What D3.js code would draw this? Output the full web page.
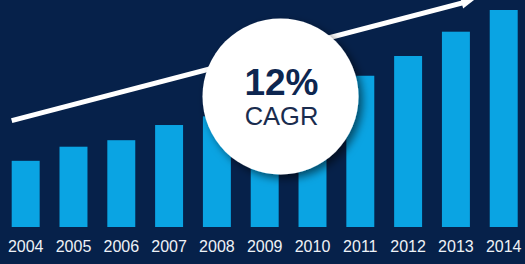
<!DOCTYPE html>
<html>
<head>
<meta charset="utf-8">
<script src="https://cdn.jsdelivr.net/npm/d3@7"></script>
<style>
html,body{margin:0;padding:0;background:#06214a;}
svg{display:block;}
</style>
</head>
<body>
<svg id="chart" width="525" height="264"></svg>
<script>
const years = ["2004","2005","2006","2007","2008","2009","2010","2011","2012","2013","2014"];
const values = [30.5, 37, 40, 47, 51, 55, 61, 69.7, 78.8, 90, 100];
const trendValues = [49, 104];
const badgeMain = "12%";
const badgeSub = "CAGR";

const W = 525, H = 264;
const svg = d3.select("#chart");

svg.append("rect").attr("width", W).attr("height", H).attr("fill", "#06214a");

const defs = svg.append("defs");
const f = defs.append("filter").attr("id","shadow").attr("x","-30%").attr("y","-30%").attr("width","160%").attr("height","160%");
f.append("feDropShadow").attr("dx",4).attr("dy",4).attr("stdDeviation",4).attr("flood-color","#000").attr("flood-opacity",0.55);

const x = d3.scaleBand().domain(years).range([11.7, 517.7]).paddingInner(0.415).paddingOuter(0);
const y = d3.scaleLinear().domain([0, 100]).range([227, 10]);

svg.append("g").selectAll("rect").data(years).join("rect")
  .attr("x", d => x(d))
  .attr("y", (d,i) => y(values[i]))
  .attr("width", x.bandwidth())
  .attr("height", (d,i) => y(0) - y(values[i]))
  .attr("fill", "#0aa4e3");

// year labels
svg.append("g").selectAll("text").data(years).join("text")
  .attr("x", d => x(d) + x.bandwidth()/2)
  .attr("y", 252)
  .attr("text-anchor", "middle")
  .attr("font-family", "Liberation Sans, Arial, sans-serif")
  .attr("font-size", 16)
  .attr("fill", "#eef2f7")
  .text(d => d);

// trend arrow
const x0 = x.range()[0], x1 = x("2013") + x.bandwidth()*0.95;
const ya = y(trendValues[0]), yb = y(trendValues[1]);
const ang = Math.atan2(yb - ya, x1 - x0);
svg.append("line")
  .attr("x1", x0).attr("y1", ya).attr("x2", x1 - 4*Math.cos(ang)).attr("y2", yb - 4*Math.sin(ang))
  .attr("stroke", "#ffffff").attr("stroke-width", 5);
const hl = 13, hw = 5.5;
const tip = [x1 + 6*Math.cos(ang), yb + 6*Math.sin(ang)];
const base = [tip[0] - hl*Math.cos(ang), tip[1] - hl*Math.sin(ang)];
const pts = [tip,
  [base[0] + hw*Math.sin(ang), base[1] - hw*Math.cos(ang)],
  [base[0] - hw*Math.sin(ang), base[1] + hw*Math.cos(ang)]];
svg.append("path").attr("d", d3.line()(pts) + "Z").attr("fill", "#ffffff");

// badge
const cx = 280.5, cy = 96.5, r = 78;
svg.append("circle").attr("cx", cx).attr("cy", cy).attr("r", r)
  .attr("fill", "#ffffff").attr("filter", "url(#shadow)");
svg.append("text").attr("x", cx + 1).attr("y", 95)
  .attr("text-anchor", "middle")
  .attr("font-family", "Liberation Sans, Arial, sans-serif")
  .attr("font-weight", "bold").attr("font-size", 37)
  .attr("fill", "#0d2650").text(badgeMain);
svg.append("text").attr("x", cx + 1).attr("y", 125)
  .attr("text-anchor", "middle")
  .attr("font-family", "Liberation Sans, Arial, sans-serif")
  .attr("font-size", 25.5)
  .attr("fill", "#1a2c4e").text(badgeSub);
</script>
</body>
</html>
